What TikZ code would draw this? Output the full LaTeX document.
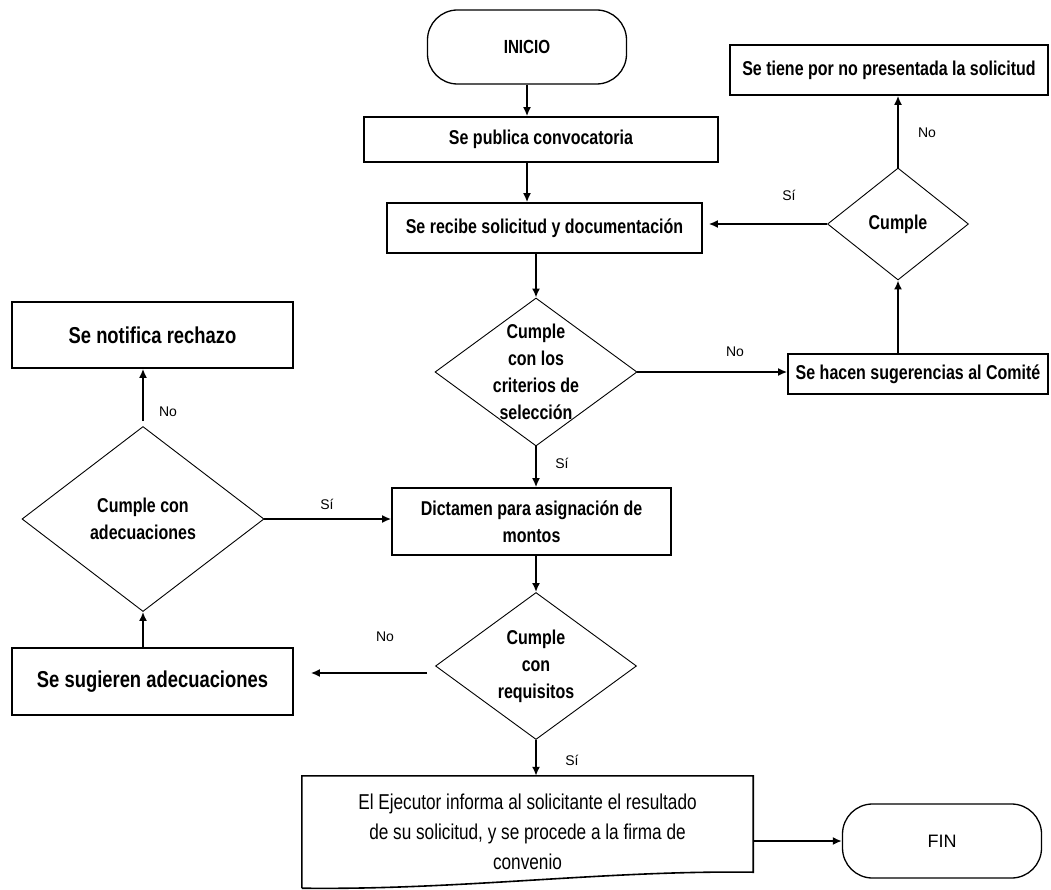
\documentclass[tikz,border=0pt]{standalone}
\usepackage{fontspec}
\usetikzlibrary{shapes.geometric,arrows.meta}
\newfontfamily\narrowsans[FakeStretch=0.8]{Liberation Sans}
\newfontfamily\plainsans{Liberation Sans}
\tikzset{
  process/.style = {rectangle, draw, line width=1.6pt, inner sep=0pt,
                    align=center, font=\narrowsans\bfseries\fontsize{20}{27}\selectfont},
  bigprocess/.style = {process, font=\narrowsans\bfseries\fontsize{23}{27}\selectfont},
  terminal/.style = {rectangle, rounded corners=30pt, draw, line width=1.3pt,
                     minimum width=199pt, minimum height=74pt},
  decision/.style = {diamond, draw, line width=0.9pt, inner sep=0pt},
  decisiontext/.style = {align=center, inner sep=0pt,
                         font=\narrowsans\bfseries\fontsize{20}{27}\selectfont},
  flow/.style = {-{Latex[length=9pt,width=8pt]}, line width=2.8pt},
  thinflow/.style = {flow, line width=1.7pt},
  answer/.style = {font=\plainsans\fontsize{14}{14}\selectfont}
}
\begin{document}
\begin{tikzpicture}[x=1pt,y=-1pt]
  \useasboundingbox (0,0) rectangle (1051,890);
  % main column
  \node[terminal, font=\narrowsans\bfseries\fontsize{19}{19}\selectfont] (inicio) at (527,47) {INICIO};
  \node[process, minimum width=354pt, minimum height=45pt] (publica) at (541,139.5) {Se publica convocatoria};
  \node[process, minimum width=315pt, minimum height=50pt] (recibe) at (544.5,228) {Se recibe solicitud y documentación};
  \node[decision, minimum width=202pt, minimum height=148pt] (criterios) at (536,372) {};
  \node[decisiontext] (criteriostext) at (criterios.center) {Cumple\\con los\\criterios de\\selección};
  \node[process, minimum width=279pt, minimum height=67pt] (dictamen) at (531.5,521.5) {Dictamen para asignación de\\montos};
  \node[decision, minimum width=201pt, minimum height=147pt] (requisitos) at (536,666) {};
  \node[decisiontext] (requisitostext) at (requisitos.center) {Cumple\\con\\requisitos};
  \node[rectangle, inner sep=0pt, align=center, minimum width=451pt, minimum height=112pt,
        font=\narrowsans\fontsize{21.5}{30}\selectfont] (ejecutor) at (527.5,832)
        {El Ejecutor informa al solicitante el resultado\\de su solicitud, y se procede a la firma de\\convenio};
  \draw[line width=1.6pt] (ejecutor.south west) -- (ejecutor.north west) -- (ejecutor.north east)
    -- ([yshift=16pt]ejecutor.south east)
    .. controls ([xshift=-150pt,yshift=18pt]ejecutor.south east) and ([xshift=160pt,yshift=-2pt]ejecutor.south west)
    .. (ejecutor.south west);
  \node[terminal, font=\plainsans\fontsize{18}{18}\selectfont] (fin) at (942,841) {FIN};
  % right branch
  \node[process, minimum width=260pt, minimum height=40pt] (sugerencias) at (918,374) {Se hacen sugerencias al Comité};
  \node[decision, minimum width=141pt, minimum height=112pt] (cumple) at (898,224) {};
  \node[decisiontext] (cumpletext) at (cumple.center) {Cumple};
  \node[process, minimum width=318pt, minimum height=50pt] (notiene) at (889,70) {Se tiene por no presentada la solicitud};
  % left branch
  \node[bigprocess, minimum width=281pt, minimum height=67pt] (sugieren) at (152.5,681.5) {Se sugieren adecuaciones};
  \node[decision, minimum width=242pt, minimum height=185pt] (adecuaciones) at (143,519) {};
  \node[decisiontext] (adecuacionestext) at (adecuaciones.center) {Cumple con\\adecuaciones};
  \node[bigprocess, minimum width=281pt, minimum height=66pt] (rechazo) at (152.5,335) {Se notifica rechazo};

  % connectors
  \draw[flow] (inicio.south) -- (inicio.south |- publica.north);
  \draw[flow] (publica.south -| inicio) -- (recibe.north -| inicio);
  \draw[flow] (recibe.south -| criterios) -- (criterios.north);
  \draw[flow] (criterios.east) -- (criterios.east -| sugerencias.west);
  \draw[flow] (sugerencias.north -| cumple) -- (cumple.south);
  \draw[flow] (cumple.north) -- (cumple.north |- notiene.south);
  \draw[thinflow, shorten >=6pt] (cumple.west) -- (cumple.west -| recibe.east);
  \draw[flow] (criterios.south) -- (criterios.south |- dictamen.north);
  \draw[flow] (dictamen.south -| requisitos) -- (requisitos.north);
  \draw[flow, shorten <=8pt, shorten >=17pt] ([yshift=-7pt]requisitos.west) -- ([yshift=-7pt]requisitos.west -| sugieren.east);
  \draw[thinflow] (sugieren.north -| adecuaciones) -- (adecuaciones.south);
  \draw[flow] (adecuaciones.east) -- (adecuaciones.east -| dictamen.west);
  \draw[flow, shorten <=5pt] (adecuaciones.north) -- (adecuaciones.north |- rechazo.south);
  \draw[flow] (requisitos.south) -- (requisitos.south |- ejecutor.north);
  \draw[flow] (fin.west -| ejecutor.east) -- (fin.west);

  % answers
  \node[answer] (noa) at (735,352) {No};
  \node[answer] (nob) at (927,133) {No};
  \node[answer] (sia) at (789,195) {Sí};
  \node[answer] (sib) at (562,463) {Sí};
  \node[answer] (noc) at (385,637) {No};
  \node[answer] (nod) at (168,412) {No};
  \node[answer] (sic) at (327,504) {Sí};
  \node[answer] (sid) at (572,760) {Sí};
\end{tikzpicture}
\end{document}
